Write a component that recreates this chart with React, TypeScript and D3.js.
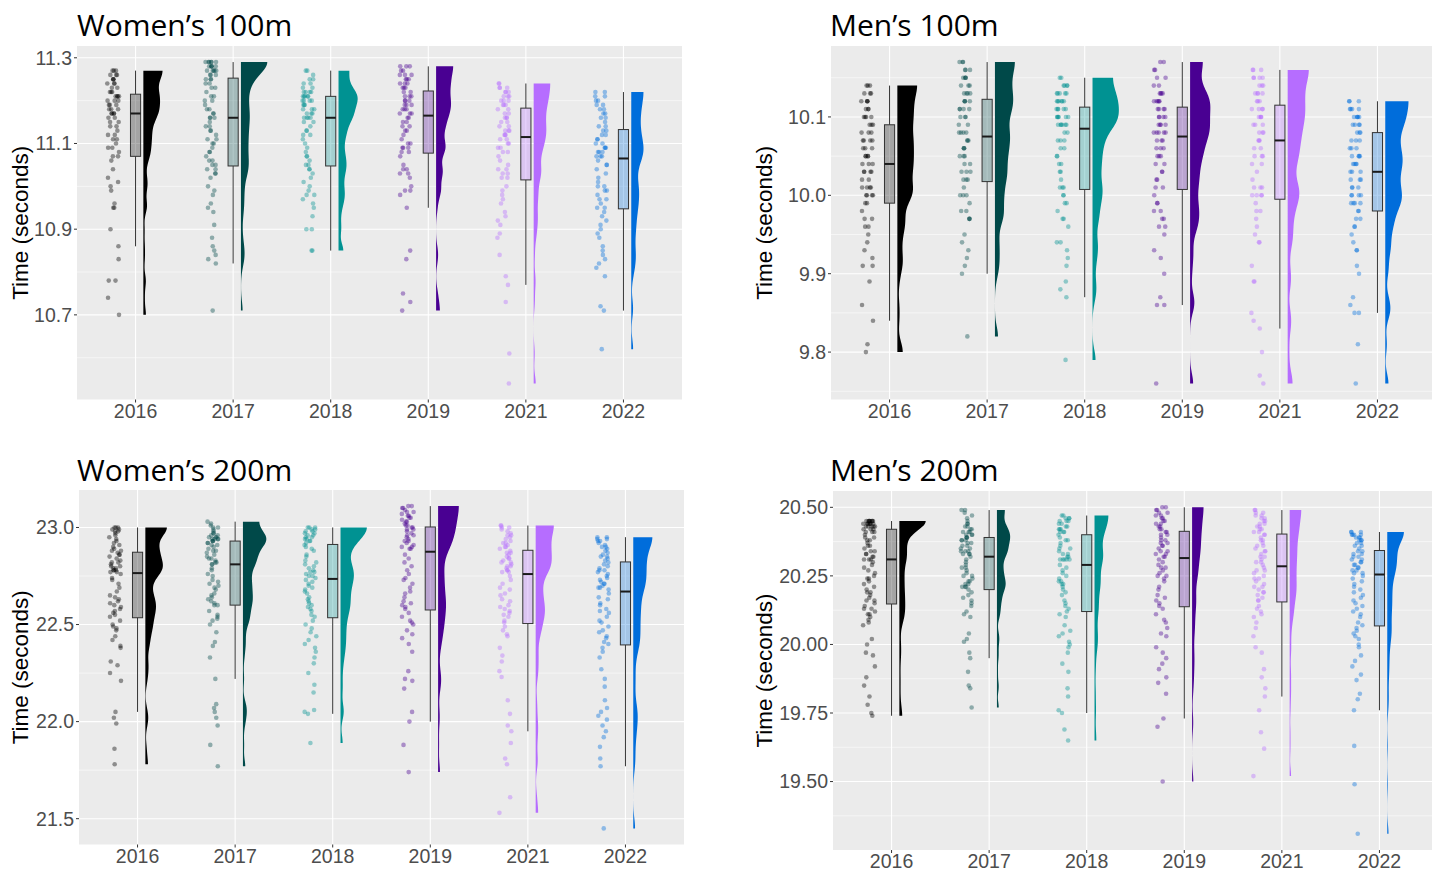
import React from "react";
import * as d3 from "d3";

// categories and colours (one per season)
const years = ["2016", "2017", "2018", "2019", "2021", "2022"];
const palette = ["#000000", "#004949", "#009292", "#490092", "#b66dff", "#006ddb"];

// ---- Women's 100m (seconds) ----
const w100_2016 = [11.27,11.27,11.27,11.26,11.26,11.26,11.25,11.25,11.25,11.24,11.24,11.24,11.23,11.23,11.22,11.22,11.22,11.21,11.21,11.21,11.21,11.20,11.20,11.20,11.19,11.19,11.19,11.18,11.18,11.18,11.17,11.17,11.17,11.17,11.16,11.16,11.15,11.15,11.14,11.14,11.13,11.12,11.12,11.11,11.11,11.10,11.09,11.09,11.08,11.07,11.07,11.06,11.04,11.02,11.01,11.00,10.99,10.96,10.95,10.95,10.90,10.86,10.83,10.78,10.78,10.74,10.70];
const w100_2017 = [11.29,11.29,11.29,11.29,11.29,11.29,11.28,11.28,11.28,11.28,11.28,11.27,11.27,11.27,11.27,11.27,11.26,11.26,11.26,11.25,11.25,11.25,11.24,11.24,11.23,11.23,11.22,11.21,11.21,11.20,11.20,11.19,11.18,11.18,11.17,11.17,11.16,11.16,11.16,11.15,11.14,11.14,11.13,11.13,11.12,11.11,11.11,11.10,11.10,11.09,11.08,11.08,11.07,11.06,11.06,11.05,11.05,11.04,11.04,11.03,11.03,11.02,11.00,10.99,10.98,10.96,10.95,10.94,10.91,10.88,10.86,10.85,10.84,10.83,10.82,10.71];
const w100_2018 = [11.27,11.27,11.26,11.25,11.25,11.24,11.24,11.23,11.23,11.22,11.22,11.22,11.22,11.21,11.21,11.21,11.21,11.21,11.20,11.20,11.20,11.20,11.19,11.19,11.19,11.18,11.18,11.18,11.17,11.17,11.17,11.16,11.16,11.16,11.16,11.15,11.15,11.14,11.13,11.13,11.12,11.12,11.11,11.10,11.09,11.08,11.07,11.07,11.06,11.05,11.05,11.04,11.04,11.03,11.02,11.01,11.00,10.99,10.98,10.98,10.97,10.96,10.95,10.93,10.90,10.90,10.85,10.85];
const w100_2019 = [11.28,11.28,11.28,11.27,11.27,11.26,11.26,11.26,11.25,11.25,11.25,11.24,11.24,11.24,11.23,11.23,11.23,11.22,11.22,11.21,11.21,11.21,11.20,11.20,11.20,11.19,11.19,11.19,11.18,11.18,11.18,11.17,11.17,11.17,11.16,11.16,11.15,11.15,11.14,11.14,11.13,11.13,11.12,11.11,11.10,11.10,11.09,11.09,11.09,11.08,11.08,11.07,11.05,11.04,11.04,11.03,11.03,11.02,11.00,10.99,10.99,10.98,10.95,10.85,10.83,10.75,10.73,10.71];
const w100_2021 = [11.24,11.24,11.23,11.23,11.23,11.22,11.22,11.22,11.21,11.21,11.21,11.20,11.20,11.20,11.19,11.19,11.19,11.18,11.18,11.17,11.17,11.16,11.16,11.16,11.15,11.15,11.14,11.14,11.13,11.13,11.13,11.12,11.12,11.12,11.11,11.11,11.10,11.10,11.09,11.09,11.08,11.08,11.07,11.06,11.05,11.04,11.04,11.03,11.03,11.02,11.02,11.00,10.99,10.98,10.97,10.96,10.94,10.93,10.92,10.91,10.89,10.88,10.84,10.79,10.77,10.73,10.61,10.54];
const w100_2022 = [11.22,11.22,11.21,11.21,11.20,11.20,11.19,11.19,11.18,11.18,11.17,11.17,11.16,11.16,11.15,11.14,11.14,11.13,11.13,11.12,11.12,11.11,11.11,11.10,11.10,11.09,11.09,11.09,11.08,11.08,11.08,11.07,11.07,11.07,11.06,11.05,11.05,11.04,11.03,11.02,11.01,11.00,11.00,10.99,10.99,10.98,10.97,10.97,10.96,10.95,10.95,10.94,10.93,10.92,10.91,10.90,10.89,10.88,10.86,10.85,10.84,10.83,10.82,10.81,10.79,10.72,10.71,10.62];

// ---- Men's 100m ----
const m100_2016 = [10.14,10.14,10.14,10.13,10.13,10.13,10.12,10.12,10.12,10.12,10.11,10.11,10.11,10.10,10.10,10.10,10.10,10.09,10.09,10.09,10.08,10.08,10.08,10.07,10.07,10.07,10.07,10.06,10.06,10.06,10.05,10.05,10.05,10.05,10.04,10.04,10.04,10.03,10.03,10.03,10.03,10.02,10.02,10.01,10.01,10.01,10.01,10.00,10.00,10.00,10.00,9.99,9.99,9.98,9.97,9.97,9.96,9.96,9.95,9.94,9.93,9.92,9.91,9.91,9.89,9.86,9.84,9.81,9.80];
const m100_2017 = [10.17,10.17,10.17,10.16,10.16,10.16,10.15,10.15,10.15,10.15,10.14,10.14,10.14,10.13,10.13,10.13,10.13,10.12,10.12,10.12,10.12,10.11,10.11,10.11,10.11,10.10,10.10,10.10,10.09,10.09,10.08,10.08,10.08,10.08,10.07,10.07,10.07,10.06,10.06,10.06,10.05,10.05,10.05,10.04,10.04,10.03,10.03,10.03,10.02,10.02,10.02,10.01,10.00,10.00,10.00,9.99,9.98,9.98,9.97,9.97,9.97,9.95,9.94,9.93,9.92,9.91,9.90,9.82];
const m100_2018 = [10.15,10.15,10.14,10.14,10.14,10.14,10.13,10.13,10.13,10.13,10.13,10.12,10.12,10.12,10.12,10.12,10.12,10.11,10.11,10.11,10.11,10.11,10.10,10.10,10.10,10.10,10.10,10.10,10.09,10.09,10.09,10.09,10.09,10.09,10.08,10.08,10.07,10.07,10.07,10.06,10.06,10.05,10.05,10.04,10.04,10.03,10.03,10.02,10.01,10.01,10.01,10.00,10.00,9.99,9.99,9.98,9.97,9.97,9.96,9.94,9.94,9.93,9.92,9.91,9.89,9.88,9.87,9.79];
const m100_2019 = [10.17,10.17,10.16,10.16,10.15,10.15,10.14,10.14,10.13,10.13,10.13,10.13,10.12,10.12,10.12,10.12,10.12,10.11,10.11,10.11,10.11,10.10,10.10,10.10,10.10,10.09,10.09,10.09,10.09,10.08,10.08,10.08,10.08,10.08,10.07,10.07,10.07,10.06,10.06,10.06,10.05,10.05,10.05,10.04,10.04,10.03,10.03,10.02,10.02,10.01,10.01,10.00,9.99,9.99,9.98,9.98,9.97,9.97,9.96,9.96,9.95,9.93,9.92,9.90,9.87,9.86,9.86,9.76];
const m100_2021 = [10.16,10.16,10.16,10.15,10.15,10.15,10.15,10.14,10.14,10.14,10.13,10.13,10.13,10.13,10.12,10.12,10.12,10.11,10.11,10.11,10.11,10.10,10.10,10.10,10.10,10.09,10.09,10.09,10.08,10.08,10.08,10.07,10.07,10.07,10.06,10.06,10.05,10.05,10.05,10.04,10.04,10.03,10.02,10.01,10.01,10.01,10.00,10.00,10.00,10.00,9.99,9.98,9.98,9.97,9.96,9.95,9.94,9.94,9.91,9.89,9.89,9.85,9.84,9.83,9.80,9.77,9.76];
const m100_2022 = [10.12,10.12,10.12,10.11,10.11,10.11,10.11,10.10,10.10,10.10,10.10,10.10,10.09,10.09,10.09,10.09,10.08,10.08,10.08,10.07,10.07,10.07,10.06,10.06,10.06,10.05,10.05,10.05,10.05,10.04,10.04,10.04,10.04,10.03,10.03,10.03,10.02,10.02,10.02,10.01,10.01,10.01,10.00,10.00,10.00,10.00,9.99,9.99,9.99,9.99,9.98,9.98,9.97,9.97,9.96,9.96,9.95,9.94,9.93,9.93,9.91,9.90,9.87,9.86,9.85,9.85,9.81,9.76];

// ---- Women's 200m ----
const w200_2016 = [23.00,23.00,23.00,22.99,22.99,22.98,22.98,22.97,22.96,22.95,22.94,22.93,22.92,22.91,22.90,22.89,22.88,22.88,22.87,22.86,22.86,22.85,22.84,22.83,22.82,22.82,22.81,22.80,22.80,22.79,22.79,22.78,22.78,22.78,22.77,22.77,22.76,22.74,22.73,22.71,22.69,22.67,22.65,22.64,22.63,22.62,22.61,22.60,22.59,22.58,22.57,22.56,22.55,22.54,22.52,22.50,22.49,22.48,22.47,22.44,22.42,22.39,22.38,22.31,22.29,22.25,22.21,22.05,22.02,21.99,21.86,21.78];
const w200_2017 = [23.03,23.02,23.01,23.00,23.00,22.99,22.98,22.97,22.97,22.96,22.96,22.95,22.95,22.95,22.94,22.94,22.94,22.94,22.93,22.93,22.93,22.92,22.92,22.91,22.91,22.90,22.89,22.88,22.88,22.87,22.86,22.85,22.84,22.84,22.83,22.82,22.82,22.81,22.81,22.79,22.78,22.76,22.75,22.73,22.72,22.71,22.70,22.69,22.68,22.66,22.65,22.64,22.63,22.62,22.61,22.60,22.60,22.57,22.55,22.54,22.53,22.52,22.50,22.46,22.41,22.39,22.33,22.22,22.09,22.07,22.05,22.02,21.98,21.88,21.77];
const w200_2018 = [23.00,23.00,23.00,22.99,22.99,22.98,22.98,22.97,22.97,22.96,22.96,22.95,22.95,22.94,22.94,22.93,22.93,22.92,22.91,22.90,22.89,22.88,22.86,22.85,22.83,22.82,22.81,22.80,22.79,22.78,22.77,22.77,22.76,22.75,22.75,22.74,22.73,22.72,22.71,22.70,22.69,22.68,22.67,22.66,22.64,22.63,22.62,22.61,22.60,22.59,22.58,22.57,22.55,22.54,22.52,22.50,22.48,22.46,22.44,22.42,22.40,22.38,22.36,22.33,22.30,22.25,22.19,22.15,22.06,22.05,22.04,21.89];
const w200_2019 = [23.11,23.11,23.10,23.10,23.09,23.08,23.08,23.07,23.06,23.06,23.05,23.05,23.04,23.03,23.03,23.02,23.01,23.01,23.00,23.00,22.99,22.99,22.98,22.97,22.96,22.96,22.95,22.94,22.93,22.93,22.92,22.91,22.90,22.90,22.89,22.89,22.86,22.84,22.82,22.80,22.78,22.76,22.74,22.73,22.71,22.69,22.67,22.66,22.64,22.62,22.61,22.60,22.59,22.58,22.56,22.54,22.52,22.51,22.50,22.47,22.45,22.43,22.40,22.36,22.26,22.22,22.21,22.17,22.05,22.00,21.88,21.74];
const w200_2021 = [23.01,23.01,23.00,23.00,22.99,22.98,22.97,22.96,22.96,22.95,22.94,22.93,22.92,22.92,22.91,22.90,22.90,22.89,22.88,22.87,22.87,22.86,22.85,22.84,22.84,22.83,22.82,22.82,22.81,22.80,22.80,22.79,22.78,22.78,22.77,22.77,22.75,22.73,22.71,22.69,22.68,22.66,22.65,22.63,22.62,22.60,22.59,22.58,22.57,22.56,22.55,22.54,22.52,22.51,22.49,22.47,22.45,22.44,22.38,22.34,22.31,22.26,22.23,22.11,22.04,21.98,21.95,21.89,21.81,21.78,21.61,21.53];
const w200_2022 = [22.95,22.95,22.94,22.94,22.93,22.93,22.92,22.91,22.90,22.90,22.89,22.88,22.87,22.86,22.85,22.85,22.84,22.83,22.82,22.81,22.80,22.79,22.78,22.78,22.77,22.76,22.75,22.74,22.73,22.72,22.71,22.71,22.70,22.69,22.69,22.68,22.66,22.64,22.63,22.61,22.60,22.58,22.57,22.56,22.54,22.52,22.51,22.49,22.47,22.46,22.44,22.43,22.41,22.40,22.38,22.36,22.33,22.27,22.22,22.18,22.11,22.07,22.05,22.03,22.01,21.98,21.95,21.92,21.87,21.81,21.77,21.45];

// ---- Men's 200m ----
const m200_2016 = [20.45,20.45,20.45,20.45,20.45,20.45,20.45,20.45,20.44,20.44,20.44,20.44,20.44,20.44,20.44,20.43,20.43,20.43,20.43,20.43,20.42,20.42,20.42,20.41,20.41,20.41,20.40,20.39,20.39,20.38,20.38,20.37,20.36,20.36,20.35,20.34,20.34,20.33,20.33,20.32,20.32,20.31,20.31,20.31,20.30,20.29,20.28,20.27,20.26,20.25,20.24,20.24,20.23,20.22,20.21,20.20,20.19,20.19,20.18,20.17,20.16,20.16,20.15,20.14,20.13,20.13,20.12,20.11,20.11,20.10,20.09,20.08,20.07,20.02,20.00,19.97,19.96,19.92,19.88,19.85,19.81,19.78,19.75,19.74];
const m200_2017 = [20.49,20.49,20.48,20.47,20.46,20.45,20.44,20.44,20.43,20.43,20.42,20.42,20.41,20.41,20.41,20.40,20.40,20.40,20.39,20.39,20.39,20.38,20.38,20.38,20.37,20.37,20.36,20.36,20.35,20.35,20.34,20.34,20.34,20.33,20.33,20.33,20.32,20.31,20.30,20.29,20.28,20.28,20.27,20.26,20.25,20.25,20.24,20.23,20.23,20.22,20.22,20.21,20.21,20.21,20.20,20.19,20.18,20.17,20.16,20.15,20.14,20.12,20.11,20.10,20.04,20.02,20.01,19.97,19.95,19.90,19.85,19.84,19.77];
const m200_2018 = [20.47,20.47,20.46,20.46,20.46,20.45,20.45,20.45,20.44,20.44,20.43,20.43,20.42,20.42,20.42,20.41,20.41,20.41,20.40,20.39,20.38,20.38,20.37,20.36,20.35,20.35,20.34,20.33,20.33,20.32,20.32,20.31,20.31,20.31,20.31,20.31,20.29,20.28,20.27,20.26,20.25,20.24,20.23,20.23,20.22,20.22,20.21,20.20,20.19,20.18,20.16,20.15,20.14,20.13,20.12,20.11,20.10,20.07,20.05,20.04,20.03,20.01,20.00,19.99,19.97,19.93,19.90,19.84,19.81,19.76,19.75,19.69,19.65];
const m200_2019 = [20.50,20.50,20.49,20.49,20.48,20.48,20.47,20.47,20.46,20.46,20.45,20.45,20.44,20.44,20.43,20.43,20.42,20.42,20.41,20.41,20.40,20.40,20.39,20.38,20.38,20.37,20.37,20.36,20.36,20.35,20.34,20.34,20.33,20.33,20.32,20.32,20.31,20.30,20.29,20.28,20.28,20.27,20.26,20.25,20.25,20.24,20.23,20.21,20.20,20.18,20.17,20.16,20.15,20.14,20.13,20.11,20.09,20.08,20.06,20.04,20.03,19.99,19.97,19.95,19.93,19.91,19.88,19.86,19.82,19.73,19.70,19.50];
const m200_2021 = [20.49,20.49,20.48,20.48,20.47,20.47,20.46,20.46,20.45,20.45,20.44,20.44,20.43,20.43,20.42,20.42,20.41,20.41,20.40,20.40,20.39,20.38,20.38,20.37,20.36,20.36,20.35,20.34,20.34,20.33,20.32,20.32,20.31,20.30,20.30,20.29,20.28,20.27,20.27,20.26,20.25,20.24,20.24,20.23,20.22,20.21,20.21,20.20,20.19,20.19,20.18,20.17,20.16,20.16,20.14,20.13,20.12,20.11,20.10,20.08,20.06,20.03,19.99,19.97,19.91,19.88,19.84,19.81,19.76,19.68,19.62,19.52];
const m200_2022 = [20.41,20.41,20.41,20.40,20.40,20.40,20.40,20.39,20.39,20.39,20.38,20.38,20.38,20.37,20.37,20.36,20.36,20.35,20.34,20.34,20.33,20.33,20.32,20.32,20.31,20.31,20.30,20.30,20.29,20.29,20.28,20.28,20.27,20.27,20.26,20.26,20.25,20.24,20.23,20.22,20.21,20.20,20.19,20.18,20.17,20.16,20.15,20.14,20.13,20.12,20.11,20.10,20.08,20.07,20.06,20.05,20.04,20.03,20.02,20.00,19.99,19.96,19.94,19.92,19.89,19.87,19.82,19.80,19.76,19.63,19.49,19.31];

// tick values per panel
const w100Ticks = [10.7, 10.9, 11.1, 11.3];
const m100Ticks = [9.8, 9.9, 10.0, 10.1];
const w200Ticks = [21.5, 22.0, 22.5, 23.0];
const m200Ticks = [19.5, 19.75, 20.0, 20.25, 20.5];

// panel layout (plot area in page pixels)
const panels = [
  { title: "Women\u2019s 100m", groups: [w100_2016, w100_2017, w100_2018, w100_2019, w100_2021, w100_2022], ticks: w100Ticks, fmt: ".1f",
    x0: 77, x1: 682, y0: 46, y1: 399.5, titleX: 77, titleY: 36, axisX: 28 },
  { title: "Men\u2019s 100m", groups: [m100_2016, m100_2017, m100_2018, m100_2019, m100_2021, m100_2022], ticks: m100Ticks, fmt: ".1f",
    x0: 831, x1: 1436, y0: 46, y1: 399.5, titleX: 830, titleY: 36, axisX: 772 },
  { title: "Women\u2019s 200m", groups: [w200_2016, w200_2017, w200_2018, w200_2019, w200_2021, w200_2022], ticks: w200Ticks, fmt: ".1f",
    x0: 79, x1: 684, y0: 490, y1: 844.5, titleX: 77, titleY: 481, axisX: 28 },
  { title: "Men\u2019s 200m", groups: [m200_2016, m200_2017, m200_2018, m200_2019, m200_2021, m200_2022], ticks: m200Ticks, fmt: ".2f",
    x0: 833, x1: 1438, y0: 491, y1: 850, titleX: 830, titleY: 481, axisX: 772 },
];

const gauss = (u: number) => Math.exp(-0.5 * u * u) / Math.sqrt(2 * Math.PI);

// bounded (reflected) gaussian kde over the data range
function density(values: number[], bw: number) {
  const lo = d3.min(values)!, hi = d3.max(values)!;
  const n = values.length;
  return d3.range(0, 201).map(i => {
    const t = lo + (hi - lo) * i / 200;
    let s = 0;
    for (const v of values) {
      s += gauss((t - v) / bw) + gauss((t - (2 * lo - v)) / bw) + gauss((t - (2 * hi - v)) / bw);
    }
    return { t, d: s / (n * bw) };
  });
}

function stats(values: number[]) {
  const s = values.slice().sort(d3.ascending);
  const q1 = d3.quantileSorted(s, 0.25)!, med = d3.quantileSorted(s, 0.5)!, q3 = d3.quantileSorted(s, 0.75)!;
  const iqr = q3 - q1;
  const hiW = d3.max(s.filter(v => v <= q3 + 1.5 * iqr + 1e-9))!;
  const loW = d3.min(s.filter(v => v >= q1 - 1.5 * iqr - 1e-9))!;
  const sd = d3.deviation(s)!;
  const bw = 0.9 * Math.min(sd, iqr / 1.34) * Math.pow(s.length, -0.2) * 0.42;
  return { q1, med, q3, hiW, loW, bw };
}

function jitter(i: number, g: number) {
  const s = Math.sin((i + 1) * 12.9898 + (g + 1) * 78.233) * 43758.5453;
  return (s - Math.floor(s)) * 2 - 1;
}

function Panel({ p }: { p: typeof panels[number] }) {
  const all = p.groups.flat();
  const [mn, mx] = d3.extent(all) as [number, number];
  const pad = (mx - mn) * 0.05;
  const y = d3.scaleLinear().domain([mn - pad, mx + pad]).range([p.y1, p.y0]);
  const x = d3.scalePoint<string>().domain(years).range([p.x0, p.x1]).padding(0.6);
  const step = x.step();
  const fmt = d3.format(p.fmt);

  const tickStep = p.ticks[1] - p.ticks[0];
  const minor = d3.range(p.ticks[0] - tickStep / 2, p.ticks[p.ticks.length - 1] + tickStep, tickStep)
    .filter(v => v > y.domain()[0] && v < y.domain()[1]);

  const st = p.groups.map(stats);
  const dens = p.groups.map((g, i) => density(g, st[i].bw));
  const dmax = d3.max(dens.flat(), d => d.d)!;
  const w = d3.scaleLinear().domain([0, dmax]).range([0, step * 0.27]);

  const boxHalf = step * 0.052;
  const slabOff = step * 0.08;
  const dotOff = -step * 0.23;
  const dotJit = step * 0.062;

  return (
    <g>
      <rect x={p.x0} y={p.y0} width={p.x1 - p.x0} height={p.y1 - p.y0} fill="#EBEBEB" />
      {minor.map(v => (
        <line key={"mi" + v} x1={p.x0} x2={p.x1} y1={y(v)} y2={y(v)} stroke="#fff" strokeWidth={0.55} />
      ))}
      {p.ticks.map(v => (
        <line key={"ma" + v} x1={p.x0} x2={p.x1} y1={y(v)} y2={y(v)} stroke="#fff" strokeWidth={1.1} />
      ))}
      {years.map(yr => (
        <line key={"vx" + yr} x1={x(yr)} x2={x(yr)} y1={p.y0} y2={p.y1} stroke="#fff" strokeWidth={1.1} />
      ))}

      {p.groups.map((g, gi) => {
        const cx = x(years[gi])!;
        const s = st[gi];
        const col = palette[gi];
        const area = d3.area<{ t: number; d: number }>()
          .x0(cx + slabOff)
          .x1(d => cx + slabOff + w(d.d))
          .y(d => y(d.t));
        return (
          <g key={years[gi]}>
            <path d={area(dens[gi]) || ""} fill={col} />
            <line x1={cx} x2={cx} y1={y(s.q3)} y2={y(s.hiW)} stroke="#333" strokeWidth={1} />
            <line x1={cx} x2={cx} y1={y(s.q1)} y2={y(s.loW)} stroke="#333" strokeWidth={1} />
            <rect x={cx - boxHalf} width={boxHalf * 2} y={y(s.q3)} height={y(s.q1) - y(s.q3)}
              fill={col} fillOpacity={0.3} stroke="#333" strokeWidth={1} />
            <line x1={cx - boxHalf} x2={cx + boxHalf} y1={y(s.med)} y2={y(s.med)} stroke="#1a1a1a" strokeWidth={2} />
            {g.map((v, i) => (
              <circle key={i} cx={cx + dotOff + jitter(i, gi) * dotJit} cy={y(v)} r={2.3} fill={col} fillOpacity={0.4} />
            ))}
          </g>
        );
      })}

      {p.ticks.map(v => (
        <g key={"yt" + v}>
          <line x1={p.x0 - 3} x2={p.x0} y1={y(v)} y2={y(v)} stroke="#333" strokeWidth={1} />
          <text x={p.x0 - 5} y={y(v)} dy="0.35em" textAnchor="end" fontSize={19.5} fill="#4D4D4D"
            fontFamily="'Liberation Sans', Arial, sans-serif">{fmt(v)}</text>
        </g>
      ))}
      {years.map(yr => (
        <g key={"xt" + yr}>
          <line x1={x(yr)} x2={x(yr)} y1={p.y1} y2={p.y1 + 3} stroke="#333" strokeWidth={1} />
          <text x={x(yr)} y={p.y1 + 18} textAnchor="middle" fontSize={19.5} fill="#4D4D4D"
            fontFamily="'Liberation Sans', Arial, sans-serif">{yr}</text>
        </g>
      ))}
      <text transform={`translate(${p.axisX},${(p.y0 + p.y1) / 2}) rotate(-90)`} textAnchor="middle" fontSize={22.5}
        fill="#000" fontFamily="'Liberation Sans', Arial, sans-serif">Time (seconds)</text>
      <text x={p.titleX} y={p.titleY} fontSize={30} fill="#000" fontFamily="'Open Sans', 'Noto Sans', sans-serif">{p.title}</text>
    </g>
  );
}

export default function App() {
  return (
    <div>
      <style>{"body{margin:0;}"}</style>
      <svg width={1432} height={871} style={{ display: "block", background: "#fff" }}>
        {panels.map(p => <Panel key={p.title} p={p} />)}
      </svg>
    </div>
  );
}
